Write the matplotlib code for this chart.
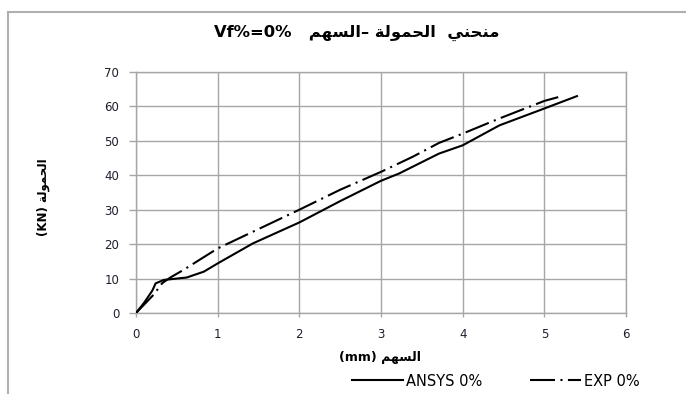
import matplotlib
matplotlib.use("Agg")
import matplotlib.pyplot as plt
from matplotlib.lines import Line2D

# Load-deflection data (deflection in mm, load in kN)
ansys_defl = [0, 0.1, 0.2, 0.24, 0.34, 0.62, 0.83, 1.0, 1.43, 2.0, 2.5, 3.0, 3.22, 3.71, 4.0, 4.45, 5.0, 5.4]
ansys_load = [0, 3.0, 6.5, 8.6, 9.6, 10.3, 12.0, 14.4, 20.2, 26.3, 32.5, 38.4, 40.5, 46.3, 48.7, 54.5, 59.4, 63.0]

exp_defl = [0, 0.215, 0.32, 0.42, 0.58, 1.0, 2.0, 2.5, 3.0, 3.39, 3.71, 4.0, 4.45, 5.0, 5.17]
exp_load = [0, 5.3, 8.65, 10.3, 12.5, 18.75, 30.0, 35.8, 41.0, 45.4, 49.4, 52.1, 56.5, 61.6, 62.7]

x_ticks = [0, 1, 2, 3, 4, 5, 6]
y_ticks = [0, 10, 20, 30, 40, 50, 60, 70]

series_names = ["ANSYS 0%", "EXP 0%"]

# Arabic presentation forms: isolated, final, initial, medial
FORMS = {
    "\u0627": ("\uFE8D", "\uFE8E", None, None),
    "\u0644": ("\uFEDD", "\uFEDE", "\uFEDF", "\uFEE0"),
    "\u062D": ("\uFEA1", "\uFEA2", "\uFEA3", "\uFEA4"),
    "\u0645": ("\uFEE1", "\uFEE2", "\uFEE3", "\uFEE4"),
    "\u0648": ("\uFEED", "\uFEEE", None, None),
    "\u0629": ("\uFE93", "\uFE94", None, None),
    "\u0633": ("\uFEB1", "\uFEB2", "\uFEB3", "\uFEB4"),
    "\u0647": ("\uFEE9", "\uFEEA", "\uFEEB", "\uFEEC"),
    "\u0646": ("\uFEE5", "\uFEE6", "\uFEE7", "\uFEE8"),
    "\u064A": ("\uFEF1", "\uFEF2", "\uFEF3", "\uFEF4"),
}


def joins_next(ch):
    f = FORMS.get(ch)
    return f is not None and f[2] is not None


def shape_word(word):
    """Contextual shaping of one Arabic word, returned in visual (LTR) order."""
    out = []
    n = len(word)
    for i, ch in enumerate(word):
        f = FORMS.get(ch)
        if f is None:
            out.append(ch)
            continue
        prev_joins = i > 0 and joins_next(word[i - 1])
        next_joins = i < n - 1 and word[i + 1] in FORMS and joins_next(ch)
        if prev_joins and next_joins:
            out.append(f[3])
        elif prev_joins:
            out.append(f[1])
        elif next_joins:
            out.append(f[2])
        else:
            out.append(f[0])
    return "".join(reversed(out))


w_curve = shape_word("منحني")
w_load = shape_word("الحمولة")
w_defl = shape_word("السهم")

title_text = "Vf%=0%   " + w_defl + "\u2013 " + w_load + "  " + w_curve
ylabel_text = "(KN) " + w_load
xlabel_text = "(mm) " + w_defl

plt.rcParams["font.family"] = ["DejaVu Sans"]

W, H = 686, 394
fig = plt.figure(figsize=(W / 100, H / 100), dpi=100)
ax = fig.add_axes([136 / W, 81 / H, 490 / W, 241 / H])

grid_col = "#a6a6a6"
ax.plot(ansys_defl, ansys_load, color="black", lw=1.5, label=series_names[0], zorder=3)
ax.plot(exp_defl, exp_load, color="black", lw=1.5, dashes=(12, 2.6, 1, 2.6),
        label=series_names[1], zorder=3)

ax.set_xlim(0, 6)
ax.set_ylim(0, 70)
ax.set_xticks(x_ticks)
ax.set_yticks(y_ticks)
ax.grid(True, color=grid_col, lw=1.0)
ax.set_axisbelow(True)
for s in ax.spines.values():
    s.set_color(grid_col)
    s.set_linewidth(1.0)
ax.tick_params(axis="y", length=5, width=1.0, color=grid_col,
               labelsize=8.5, labelcolor="#1e1e2e", pad=7)
ax.tick_params(axis="x", length=3, width=1.0, color=grid_col,
               labelsize=8.5, labelcolor="#1e1e2e", pad=8)

# Axis titles and chart title
fig.text(380 / W, 1 - 357 / H, xlabel_text, ha="center", va="center",
         fontsize=9, fontweight="bold")
fig.text(43 / W, 1 - 197 / H, ylabel_text, ha="center", va="center",
         rotation=90, fontsize=8.5, fontweight="bold")
fig.text(357 / W, 1 - 33 / H, title_text, ha="center", va="center",
         fontsize=11.8, fontweight="bold")

fig.legend(loc="center", bbox_to_anchor=(496 / W, 1 - 381 / H), ncol=2,
           frameon=False, fontsize=10.5, handlelength=3.5, handletextpad=0.2,
           columnspacing=3.3, borderpad=0)

# Outer chart border (top and left edges)
fig.add_artist(Line2D([8 / W, 1], [1 - 12 / H, 1 - 12 / H],
                      transform=fig.transFigure, color="#b0b0b0", lw=1.5))
fig.add_artist(Line2D([8 / W, 8 / W], [0, 1 - 12 / H],
                      transform=fig.transFigure, color="#b0b0b0", lw=1.5))

fig.savefig("out.png", dpi=100)
